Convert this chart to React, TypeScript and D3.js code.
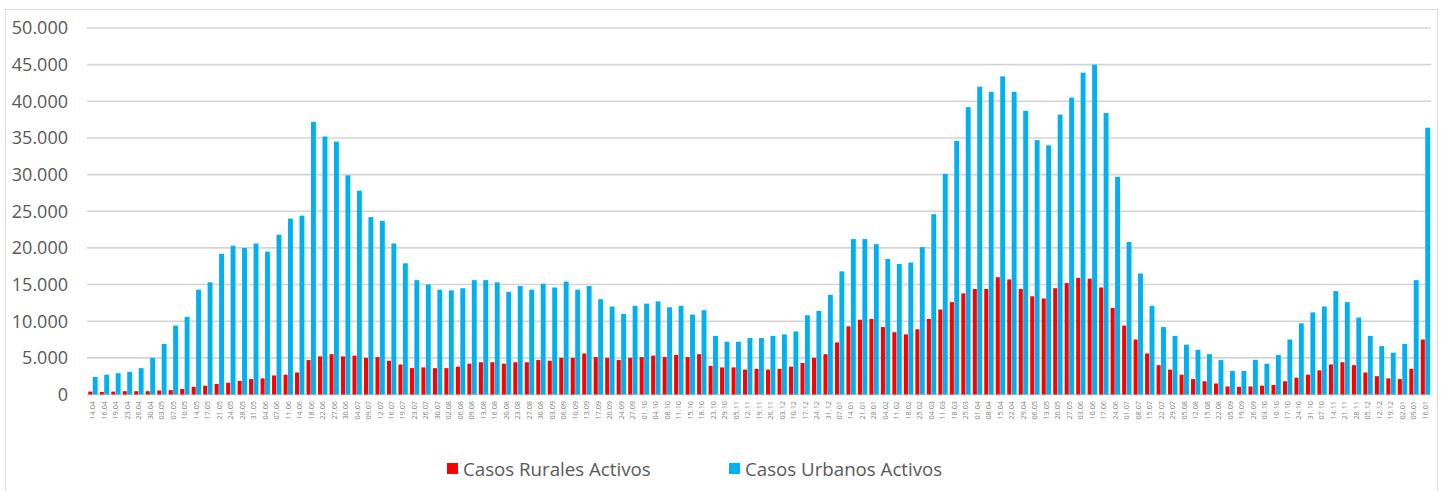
import React from "react";
import * as d3 from "d3";

const labels: string[] = [
  "14.04","16.04","19.04","23.04","26.04","30.04","03.05","07.05","10.05","14.05",
  "17.05","21.05","24.05","28.05","31.05","04.06","07.06","11.06","14.06","18.06",
  "22.06","27.06","30.06","04.07","09.07","12.07","16.07","19.07","23.07","26.07",
  "30.07","02.08","06.08","09.08","13.08","16.08","20.08","23.08","27.08","30.08",
  "03.09","06.09","10.09","13.09","17.09","20.09","24.09","27.09","01.10","04.10",
  "08.10","11.10","15.10","18.10","23.10","29.10","05.11","12.11","19.11","26.11",
  "03.12","10.12","17.12","24.12","31.12","07.01","14.01","21.01","28.01","04.02",
  "11.02","18.02","25.02","04.03","11.03","18.03","25.03","01.04","08.04","15.04",
  "22.04","29.04","06.05","13.05","20.05","27.05","03.06","10.06","17.06","24.06",
  "01.07","08.07","15.07","22.07","29.07","05.08","12.08","15.08","22.08","05.09",
  "19.09","26.09","03.10","10.10","17.10","24.10","31.10","07.10","14.11","21.11",
  "28.11","05.12","12.12","19.12","02.01","09.01","16.01"
];

const rurales: number[] = [
  400,350,400,450,450,450,550,600,750,1050,
  1200,1450,1600,1850,2100,2200,2600,2700,3000,4700,
  5200,5500,5200,5300,5000,5100,4600,4100,3600,3700,
  3600,3600,3800,4200,4400,4400,4200,4400,4400,4700,
  4600,5000,5000,5600,5100,5000,4700,5000,5100,5300,
  5100,5400,5100,5500,3900,3700,3700,3400,3500,3400,
  3500,3800,4300,5000,5500,7100,9300,10200,10300,9200,
  8500,8200,8900,10300,11600,12600,13800,14400,14400,16000,
  15700,14400,13400,13100,14500,15200,15900,15800,14600,11800,
  9400,7500,5600,4000,3400,2700,2100,1800,1500,1100,
  1050,1100,1200,1300,1800,2300,2700,3300,4100,4400,
  4000,3000,2500,2200,2100,3500,7500
];

const urbanos: number[] = [
  2400,2700,2900,3100,3600,5000,6900,9400,10600,14300,
  15300,19200,20300,20000,20600,19500,21800,24000,24400,37200,
  35200,34500,29900,27800,24200,23700,20600,17900,15600,15000,
  14300,14200,14500,15600,15600,15300,14000,14800,14300,15100,
  14600,15400,14300,14800,13000,12000,11000,12100,12400,12700,
  11900,12100,10900,11500,8000,7200,7200,7700,7700,8000,
  8200,8600,10800,11400,13600,16800,21200,21200,20500,18500,
  17800,18000,20100,24600,30100,34600,39200,42000,41300,43400,
  41300,38700,34700,34000,38200,40500,43900,45000,38400,29700,
  20800,16500,12100,9200,8000,6800,6100,5500,4700,3200,
  3200,4700,4200,5400,7500,9700,11200,12000,14100,12600,
  10500,8000,6600,5700,6900,15600,36400
];

const yTicks: number[] = [0, 5000, 10000, 15000, 20000, 25000, 30000, 35000, 40000, 45000, 50000];

const seriesNames: string[] = ["Casos Rurales Activos", "Casos Urbanos Activos"];
const seriesColors: string[] = ["#ff0000", "#00b0f0"];

const W = 1444;
const H = 491;

export default function App() {
  const x = d3.scaleBand<string>().domain(labels).range([87, 1431]).paddingInner(0.22).paddingOuter(0.11);
  const x1 = d3.scaleBand<string>().domain(["r", "u"]).range([0, x.bandwidth()]).padding(0);
  const y = d3.scaleLinear().domain([0, 50000]).range([394.5, 28]);
  const fmt = (v: number) => (v === 0 ? "0" : d3.format(",")(v).replace(/,/g, "."));
  const font = "'Open Sans', 'Noto Sans', sans-serif";

  return (
    <svg width={W} height={H} style={{ position: "absolute", left: 0, top: 0, display: "block", background: "#fff" }}>
      <rect x={5.5} y={9.5} width={1432} height={490} fill="#fff" stroke="#d9d9d9" strokeWidth={1} />
      {yTicks.map((t) => (
        <g key={t}>
          <line x1={87} x2={1431} y1={y(t)} y2={y(t)} stroke="#d4d4d4" strokeWidth={1.6} />
          <text x={68} y={y(t)} dy="0.35em" textAnchor="end" fontFamily={font} fontSize={18} fill="#595959">
            {fmt(t)}
          </text>
        </g>
      ))}
      {labels.map((l, i) => {
        const bx = x(l) as number;
        return (
          <g key={l + i}>
            <rect x={bx + (x1("r") as number)} y={y(rurales[i])} width={x1.bandwidth() - 0.4} height={y(0) - y(rurales[i])} fill={seriesColors[0]} />
            <rect x={bx + (x1("u") as number)} y={y(urbanos[i])} width={x1.bandwidth() + 0.4} height={y(0) - y(urbanos[i])} fill={seriesColors[1]} />
          </g>
        );
      })}
      {labels.map((l, i) => {
        const cx = (x(l) as number) + x.bandwidth() / 2;
        return (
          <text key={"t" + i} transform={`translate(${cx + 2.6},401) rotate(-90)`} textAnchor="end" fontFamily={font} fontSize={7.3} fill="#7f7f7f">
            {l}
          </text>
        );
      })}
      <g>
        <rect x={447} y={463} width={11} height={11} fill={seriesColors[0]} />
        <text x={463} y={469} dy="0.35em" fontFamily={font} fontSize={18.7} fill="#595959">{seriesNames[0]}</text>
        <rect x={729} y={463} width={11} height={11} fill={seriesColors[1]} />
        <text x={745} y={469} dy="0.35em" fontFamily={font} fontSize={18.7} fill="#595959">{seriesNames[1]}</text>
      </g>
    </svg>
  );
}
